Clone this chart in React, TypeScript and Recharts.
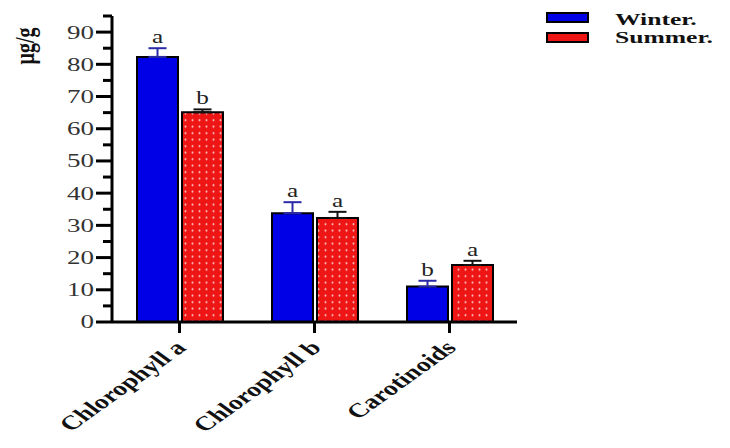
import React from "react";
import {
  BarChart,
  Bar,
  XAxis,
  YAxis,
  ErrorBar,
  LabelList,
} from "recharts";

const categories = ["Chlorophyll a", "Chlorophyll b", "Carotinoids"];
const winter = [82.3, 33.8, 11.0];
const summer = [65.1, 32.3, 17.7];
const winterErr = [2.7, 3.4, 1.8];
const summerErr = [0.9, 1.9, 1.3];
const winterLetters = ["a", "a", "b"];
const summerLetters = ["b", "a", "a"];
const yTicks = [0, 5, 10, 15, 20, 25, 30, 35, 40, 45, 50, 55, 60, 65, 70, 75, 80, 85, 90, 95];
const seriesNames = ["Winter.", "Summer."];

const data = categories.map((name, i) => ({
  name,
  winter: winter[i],
  summer: summer[i],
  winterErr: [0, winterErr[i]],
  summerErr: [0, summerErr[i]],
}));

const SERIF = "'Liberation Serif', 'DejaVu Serif', serif";
const STRETCH = 1.4;
const BLUE = "#0000e6";
const RED = "#ee1515";

const YTick = (props: any) => {
  const { x, y, payload } = props;
  const v = payload.value;
  const major = v % 10 === 0;
  return (
    <g>
      <line x1={x - (major ? 16 : 9)} x2={x} y1={y} y2={y} stroke="#000" strokeWidth={3} />
      {major && (
        <text
          transform={`translate(${x - 18},${y}) scale(1.5,1)`}
          textAnchor="end"
          dy="0.36em"
          fontFamily={SERIF}
          fontSize={18}
          fill="#333"
        >
          {v}
        </text>
      )}
    </g>
  );
};

const XTick = (props: any) => {
  const { x, y, payload } = props;
  return (
    <g>
      <line x1={x} x2={x} y1={y} y2={y + 11} stroke="#000" strokeWidth={3} />
      <text
        transform={`translate(${x + 8},${y + 27}) scale(${STRETCH},1) rotate(-45)`}
        textAnchor="end"
        fontFamily={SERIF}
        fontWeight="bold"
        fontSize={20}
        fill="#111"
      >
        {payload.value}
      </text>
    </g>
  );
};

const makeLetter = (letters: string[], errs: number[]) => (props: any) => {
  const { x, y, width, height, value, index } = props;
  const ppu = height / value;
  const top = y - errs[index] * ppu;
  return (
    <text
      transform={`translate(${x + width / 2},${top - 5}) scale(${STRETCH},1)`}
      textAnchor="middle"
      fontFamily={SERIF}
      fontSize={18}
      fill="#222"
    >
      {letters[index]}
    </text>
  );
};

const LegendBox = () => (
  <svg width={190} height={50} style={{ position: "absolute", left: 539, top: 7 }}>
    <rect x={8} y={6} width={41} height={9} fill={BLUE} stroke="#000" strokeWidth={2} />
    <rect x={8} y={26} width={41} height={9} fill={RED} stroke="#000" strokeWidth={2} />
    {seriesNames.map((s, i) => (
      <text
        key={s}
        transform={`translate(76,${18 + i * 18}) scale(1.6,1)`}
        fontFamily={SERIF}
        fontWeight="bold"
        fontSize={16}
        fill="#111"
      >
        {s}
      </text>
    ))}
  </svg>
);

export default function App() {
  return (
    <div style={{ position: "absolute", left: 0, top: 0, width: 730, height: 448, background: "#fff" }}>
      <BarChart
        width={730}
        height={448}
        data={data}
        margin={{ top: 16, right: 213, bottom: 0, left: 0 }}
        barSize={41}
        barGap={4}
      >
        <defs>
          <pattern id="dots" width={7} height={6.5} patternUnits="userSpaceOnUse">
            <rect width={7} height={6.5} fill={RED} />
            <circle cx={3.5} cy={3.2} r={1} fill="#ffc8c8" />
          </pattern>
        </defs>
        <XAxis
          dataKey="name"
          height={126}
          interval={0}
          tickSize={0}
          tickMargin={0}
          tick={<XTick />}
          axisLine={{ stroke: "#000", strokeWidth: 3 }}
          tickLine={false}
        />
        <YAxis
          width={112}
          domain={[0, 95]}
          ticks={yTicks}
          interval={0}
          tickSize={0}
          tickMargin={0}
          tick={<YTick />}
          axisLine={{ stroke: "#000", strokeWidth: 3 }}
          tickLine={false}
          label={{
            value: "µg/g",
            content: () => (
              <text
                transform={`translate(34,46) scale(${STRETCH},1) rotate(-90)`}
                textAnchor="middle"
                fontFamily={SERIF}
                fontWeight="bold"
                fontSize={20}
                fill="#111"
              >
                µg/g
              </text>
            ),
          }}
        />
        <Bar dataKey="winter" name={seriesNames[0]} fill={BLUE} stroke="#000" strokeWidth={2} isAnimationActive={false}>
          <ErrorBar dataKey="winterErr" width={9} stroke="#2a2aa8" strokeWidth={2} direction="y" />
          <LabelList dataKey="winter" content={makeLetter(winterLetters, winterErr)} />
        </Bar>
        <Bar dataKey="summer" name={seriesNames[1]} fill="url(#dots)" stroke="#000" strokeWidth={2} isAnimationActive={false}>
          <ErrorBar dataKey="summerErr" width={9} stroke="#111" strokeWidth={2} direction="y" />
          <LabelList dataKey="summer" content={makeLetter(summerLetters, summerErr)} />
        </Bar>
      </BarChart>
      <LegendBox />
    </div>
  );
}
